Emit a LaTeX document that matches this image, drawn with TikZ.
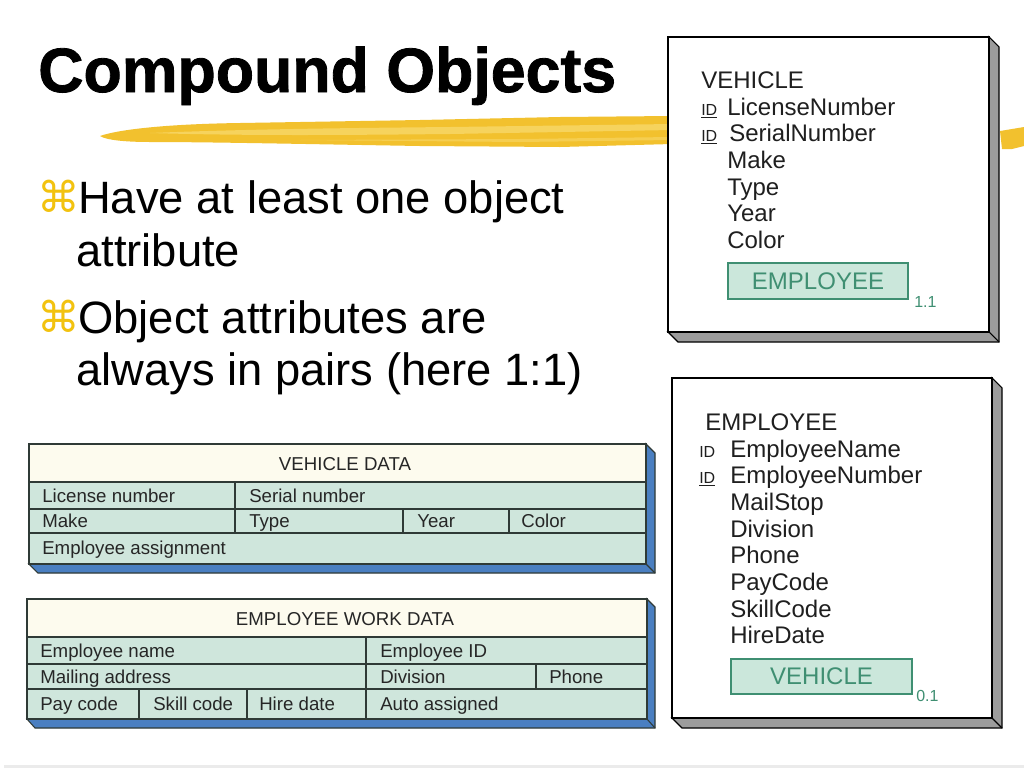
\documentclass[tikz,border=0pt]{standalone}
\usepackage{fontspec}
\setmainfont{Liberation Sans}
\newfontfamily\titlefont{Liberation Sans}[BoldFeatures={FakeBold=1.3}]
\newfontfamily\symfont{DejaVu Sans}
\definecolor{brushY}{HTML}{F2C12E}
\definecolor{brushL}{HTML}{F8D869}
\definecolor{cmdY}{HTML}{F2C20F}
\definecolor{depthG}{HTML}{9C9C9C}
\definecolor{hdrfill}{HTML}{FDFBEE}
\definecolor{rowfill}{HTML}{CFE6DC}
\definecolor{tblline}{HTML}{2F3A36}
\definecolor{tblshadow}{HTML}{4A7FC1}
\definecolor{tealtxt}{HTML}{3F8F72}
\definecolor{tealfill}{HTML}{CBE7DB}
\tikzset{
  boxface/.style={fill=white, draw=black, line width=1.1pt},
  boxdepth/.style={fill=depthG, draw=black, line width=0.8pt},
  tbldepth/.style={fill=tblshadow, draw=tblline, line width=0.8pt},
  tblgrid/.style={draw=tblline, line width=0.9pt},
  tbltext/.style={anchor=base west, inner sep=0pt, font=\fontsize{14}{16}\selectfont, text=black!85},
  tblhead/.style={anchor=base, inner sep=0pt, font=\fontsize{14}{16}\selectfont, text=black!85},
  attr/.style={anchor=base west, inner sep=0pt, font=\fontsize{18}{21}\selectfont, text=black!88},
  idtag/.style={anchor=base west, inner sep=0pt, font=\fontsize{12}{14}\selectfont, text=black!88},
  subbox/.style={draw=tealtxt, fill=tealfill, line width=0.8pt, text=tealtxt, font=\fontsize{18}{21}\selectfont, inner sep=0pt},
  card/.style={anchor=base west, inner sep=0pt, font=\fontsize{12}{14}\selectfont, text=tealtxt},
  bullettext/.style={anchor=base west, inner sep=0pt, font=\fontsize{34}{40}\selectfont, text=black},
  bulletsym/.style={anchor=base west, inner sep=0pt, font=\symfont\fontsize{32}{40}\selectfont, text=cmdY},
}
\begin{document}
\begin{tikzpicture}[x=0.75pt, y=-0.75pt]
\useasboundingbox (0,0) rectangle (1024,768);
\fill[white] (0,0) rectangle (1024,768);
\fill[black!8] (4,765) rectangle (1024,768);

% brush stroke
\fill[brushY] (100,136) .. controls (120,129) and (170,124) .. (240,123) -- (420,120) -- (560,117) -- (672,116)
  -- (672,144) -- (560,147) -- (420,146) .. controls (300,144) and (210,142) .. (150,142)
  .. controls (125,142) and (106,140) .. (100,136) -- cycle;
\fill[brushL, opacity=0.8] (150,133) .. controls (250,129) and (350,128) .. (450,127) -- (672,124)
  -- (672,130) -- (450,134) .. controls (350,135) and (250,136) .. (150,133) -- cycle;
\fill[brushL, opacity=0.6] (300,140) -- (520,139) -- (672,137) -- (672,140) -- (520,142) -- cycle;
\fill[brushY] (1000,131) -- (1012,129) -- (1024,127) -- (1024,146) -- (1012,149) -- (1002,149) -- cycle;

% title
\node[anchor=base west, inner sep=0pt, font=\titlefont\bfseries\fontsize{47}{56}\selectfont] (title) at (38,92) {Compound Objects};

% bullets
\node[bulletsym] (b1sym) at (37,212) {⌘};
\node[bullettext] (b1a) at (78,213) {Have at least one object};
\node[bullettext] (b1b) at (76,266) {attribute};
\node[bulletsym] (b2sym) at (37,332) {⌘};
\node[bullettext] (b2a) at (78,333) {Object attributes are};
\node[bullettext] (b2b) at (76,385) {always in pairs (here 1:1)};

% VEHICLE object box
\draw[boxdepth] (989,37) -- (999,47) -- (999,342) -- (678,342) -- (668,332) -- (989,332) -- cycle;
\draw[line width=0.8pt] (989,332) -- (999,342);
\draw[boxface] (668,37) rectangle (989,332);
\node[attr] (vh) at (701,88) {VEHICLE};
\node[idtag] (vid1) at (701,115) {\underline{ID}};
\node[attr] (v1) at (727,115) {LicenseNumber};
\node[idtag] (vid2) at (701,141) {\underline{ID}};
\node[attr] (v2) at (729,141) {SerialNumber};
\node[attr] (v3) at (727,168) {Make};
\node[attr] (v4) at (727,195) {Type};
\node[attr] (v5) at (727,221) {Year};
\node[attr] (v6) at (727,248) {Color};
\node[subbox, minimum width=135pt, minimum height=27pt] (vemp) at (818,281) {EMPLOYEE};
\node[card] (vcard) at (914,307) {1.1};

% EMPLOYEE object box
\draw[boxdepth] (992,378) -- (1002,388) -- (1002,728) -- (682,728) -- (672,718) -- (992,718) -- cycle;
\draw[line width=0.8pt] (992,718) -- (1002,728);
\draw[boxface] (672,378) rectangle (992,718);
\node[attr] (eh) at (705,430) {EMPLOYEE};
\node[idtag] (eid1) at (699,457) {ID};
\node[attr] (e1) at (730,457) {EmployeeName};
\node[idtag] (eid2) at (699,483) {\underline{ID}};
\node[attr] (e2) at (730,483) {EmployeeNumber};
\node[attr] (e3) at (730,510) {MailStop};
\node[attr] (e4) at (730,537) {Division};
\node[attr] (e5) at (730,563) {Phone};
\node[attr] (e6) at (730,590) {PayCode};
\node[attr] (e7) at (730,617) {SkillCode};
\node[attr] (e8) at (730,643) {HireDate};
\node[subbox, minimum width=135.75pt, minimum height=26.25pt] (eveh) at (821.5,676.5) {VEHICLE};
\node[card] (ecard) at (916,701) {0.1};

% VEHICLE DATA table
\draw[tbldepth] (646,444) -- (655,453) -- (655,573) -- (38,573) -- (29,564) -- (646,564) -- cycle;
\draw[tblline, line width=0.8pt] (646,564) -- (655,573);
\fill[hdrfill] (29,444) rectangle (646,482);
\fill[rowfill] (29,482) rectangle (646,564);
\draw[tblgrid] (29,444) rectangle (646,564);
\draw[tblgrid] (29,482) -- (646,482) (29,509) -- (646,509) (29,533) -- (646,533);
\draw[tblgrid] (235,482) -- (235,533) (403,509) -- (403,533) (509,509) -- (509,533);
\node[tblhead] (vdh) at (345,470) {VEHICLE DATA};
\node[tbltext] (vd1) at (42,502) {License number};
\node[tbltext] (vd2) at (249,502) {Serial number};
\node[tbltext] (vd3) at (42,527.5) {Make};
\node[tbltext] (vd4) at (249,527.5) {Type};
\node[tbltext] (vd5) at (417,527.5) {Year};
\node[tbltext] (vd6) at (521,527.5) {Color};
\node[tbltext] (vd7) at (42,554) {Employee assignment};

% EMPLOYEE WORK DATA table
\draw[tbldepth] (647,599) -- (655,607) -- (655,728) -- (35,728) -- (27,719) -- (647,719) -- cycle;
\draw[tblline, line width=0.8pt] (647,719) -- (655,728);
\fill[hdrfill] (27,599) rectangle (647,637);
\fill[rowfill] (27,637) rectangle (647,719);
\draw[tblgrid] (27,599) rectangle (647,719);
\draw[tblgrid] (27,637) -- (647,637) (27,664) -- (647,664) (27,689) -- (647,689);
\draw[tblgrid] (366,637) -- (366,719) (536,664) -- (536,689) (139,689) -- (139,719) (247,689) -- (247,719);
\node[tblhead] (ewh) at (345,625.5) {EMPLOYEE WORK DATA};
\node[tbltext] (ew1) at (40,657) {Employee name};
\node[tbltext] (ew2) at (380,657) {Employee ID};
\node[tbltext] (ew3) at (40,683) {Mailing address};
\node[tbltext] (ew4) at (380,683) {Division};
\node[tbltext] (ew5) at (549,683) {Phone};
\node[tbltext] (ew6) at (40,710.5) {Pay code};
\node[tbltext] (ew7) at (153,710.5) {Skill code};
\node[tbltext] (ew8) at (259,710.5) {Hire date};
\node[tbltext] (ew9) at (380,710.5) {Auto assigned};
\end{tikzpicture}
\end{document}
